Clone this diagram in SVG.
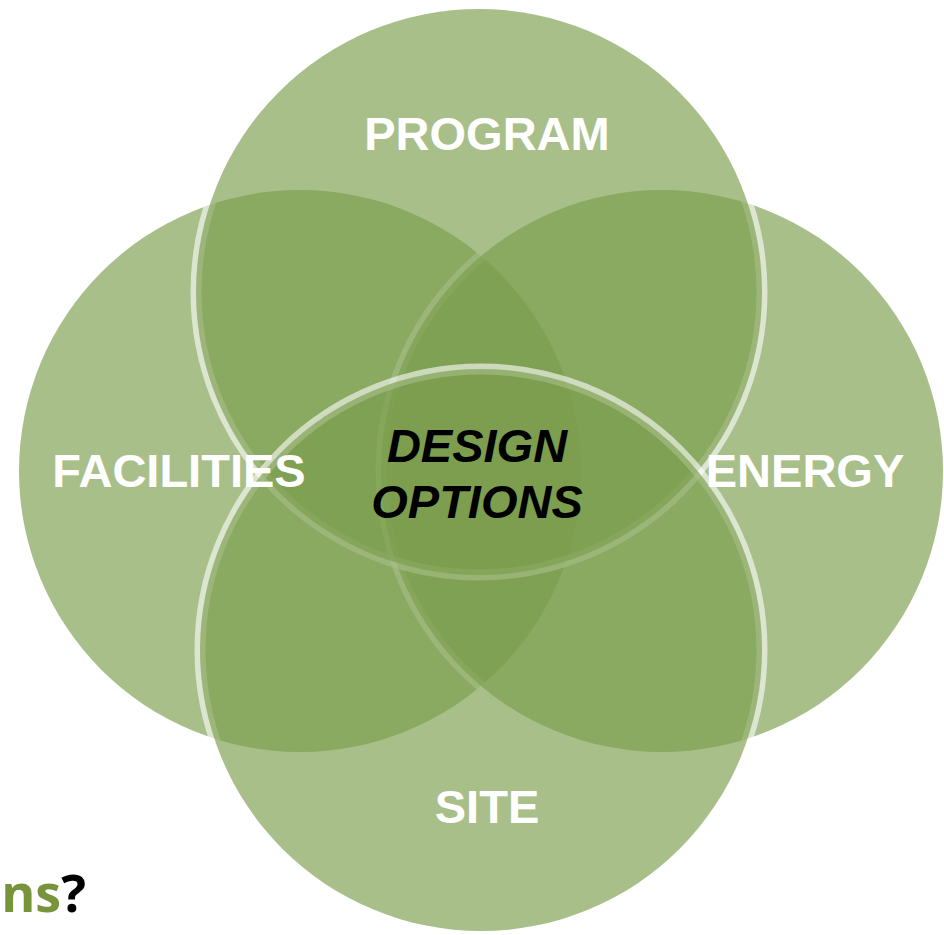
<svg xmlns="http://www.w3.org/2000/svg" width="944" height="935" viewBox="0 0 944 935">
<style>
.c{fill:#7a9d4c;fill-opacity:0.655;stroke:#ffffff;stroke-opacity:0.6;stroke-width:11;paint-order:stroke}
.lbl{font-family:"Liberation Sans",Arial,sans-serif;font-weight:bold;font-size:47px;fill:#ffffff;text-anchor:middle}
.ctr{font-family:"Liberation Sans",Arial,sans-serif;font-weight:bold;font-style:italic;font-size:47px;fill:#000000;text-anchor:middle}
.q{font-family:"Open Sans","Liberation Sans",sans-serif;font-weight:bold;font-size:52px}
</style>
<rect width="944" height="935" fill="#ffffff"/>
<g id="facilities"><circle class="c" cx="300" cy="471" r="281"/></g>
<g id="energy"><circle class="c" cx="662" cy="471" r="281"/></g>
<g id="program"><circle class="c" cx="479" cy="292" r="283"/></g>
<g id="site"><circle class="c" cx="481" cy="650" r="281"/></g>
<g id="labels">
<text class="lbl" x="487" y="150">PROGRAM</text>
<text class="lbl" x="179" y="487">FACILITIES</text>
<text class="lbl" x="805" y="487">ENERGY</text>
<text class="lbl" x="487" y="823">SITE</text>
</g>
<g id="design-options">
<text class="ctr" x="477" y="462">DESIGN</text>
<text class="ctr" x="477" y="518">OPTIONS</text>
</g>
<g id="connectors"></g>
<text class="q" x="86" y="912" text-anchor="end"><tspan fill="#77933c">ns</tspan><tspan fill="#000000">?</tspan></text>
</svg>
